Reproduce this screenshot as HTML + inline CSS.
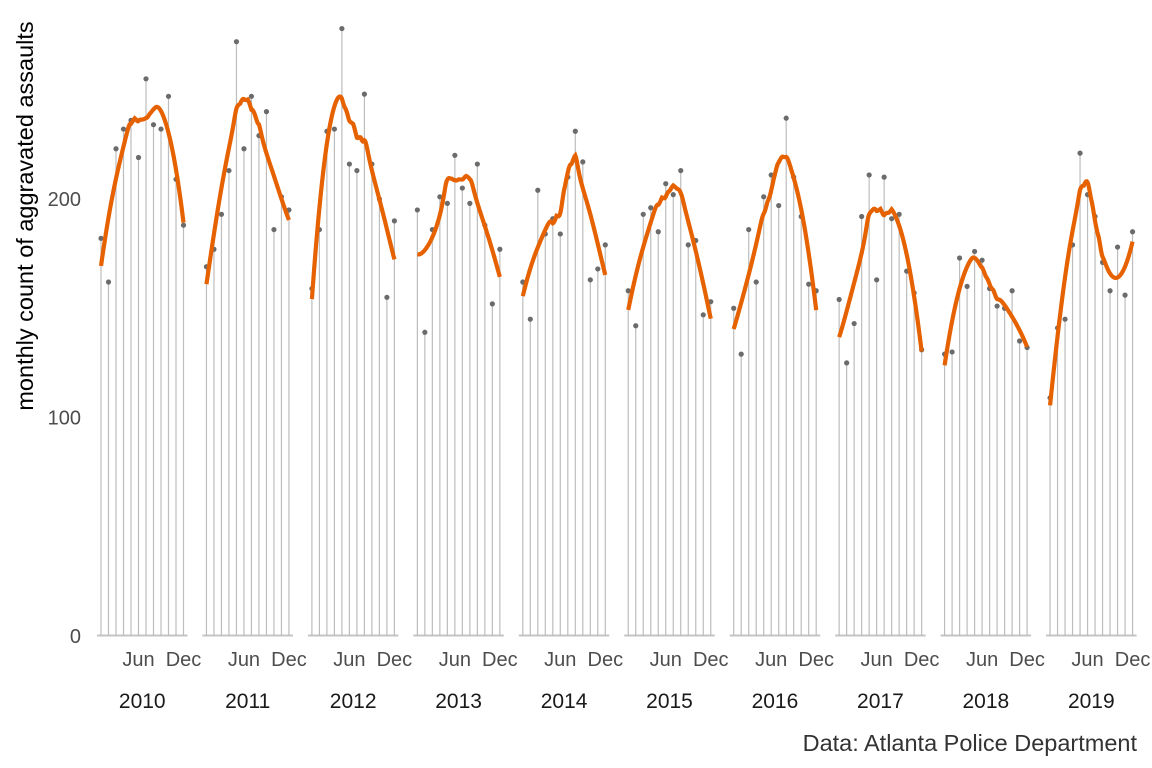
<!DOCTYPE html>
<html><head><meta charset="utf-8"><style>
body{margin:0;background:#fff;}
svg{display:block;font-family:"Liberation Sans",Arial,sans-serif;}
</style></head><body>
<svg id="chart" width="1152" height="768" viewBox="0 0 1152 768" xmlns="http://www.w3.org/2000/svg">
<text transform="translate(33,216) rotate(-90)" text-anchor="middle" font-size="23.5" fill="#000">monthly count of aggravated assaults</text>
<text x="1137" y="751" text-anchor="end" font-size="23.5" fill="#333">Data: Atlanta Police Department</text>
<g id="yaxis"></g>
<g id="panels"></g>
</svg>
<script>
const years = [2010,2011,2012,2013,2014,2015,2016,2017,2018,2019];
const yTicks = [0,100,200];
const monthLabels = ["Jun","Dec"];
const v2010 = [182,162,223,232,236,219,255,234,232,247,209,188];
const v2011 = [169,177,193,213,272,223,247,229,240,186,201,195];
const v2012 = [159,186,231,232,278,216,213,248,216,200,155,190];
const v2013 = [195,139,186,201,198,220,205,198,216,188,152,177];
const v2014 = [162,145,204,184,191,184,210,231,217,163,168,179];
const v2015 = [158,142,193,196,185,207,202,213,179,181,147,153];
const v2016 = [150,129,186,162,201,211,197,237,210,192,161,158];
const v2017 = [154,125,143,192,211,163,210,191,193,167,157,131];
const v2018 = [129,130,173,160,176,172,159,151,150,158,135,132];
const v2019 = [109,141,145,179,221,202,192,171,158,178,156,185];
const series = [v2010,v2011,v2012,v2013,v2014,v2015,v2016,v2017,v2018,v2019];

const NS="http://www.w3.org/2000/svg";
function el(tag,attrs,parent){const e=document.createElementNS(NS,tag);for(const k in attrs)e.setAttribute(k,attrs[k]);parent.appendChild(e);return e;}
const y=v=>636-v*2.185;
const panelX0=i=>101+i*105.45;
const x=(p,m)=>panelX0(p)+m*7.5;

const yax=document.getElementById('yaxis');
yTicks.forEach(t=>{
  const tx=el('text',{x:81,y:y(t)+7,'text-anchor':'end','font-size':20,fill:'#4d4d4d'},yax);
  tx.textContent=t;
  
  
});

function loess(vals,span){
  const n=vals.length,q=Math.max(3,Math.floor(span*n));
  const out=[];
  for(let s=0;s<=110;s++){
    const x0=s/10;
    const d=vals.map((_,i)=>Math.abs(i-x0));
    const sorted=[...d].sort((a,b)=>a-b);
    const h=Math.max(sorted[q-1],1e-6)*1.0001;
    let S=[0,0,0,0,0],T=[0,0,0];
    vals.forEach((v,i)=>{
      const u=d[i]/h; if(u>=1)return;
      const w=Math.pow(1-u*u*u,3);const dx=i-x0;
      S[0]+=w;S[1]+=w*dx;S[2]+=w*dx*dx;S[3]+=w*dx*dx*dx;S[4]+=w*dx*dx*dx*dx;
      T[0]+=w*v;T[1]+=w*v*dx;T[2]+=w*v*dx*dx;
    });
    const A=[[S[0],S[1],S[2]],[S[1],S[2],S[3]],[S[2],S[3],S[4]]];
    const det=m=>m[0][0]*(m[1][1]*m[2][2]-m[1][2]*m[2][1])-m[0][1]*(m[1][0]*m[2][2]-m[1][2]*m[2][0])+m[0][2]*(m[1][0]*m[2][1]-m[1][1]*m[2][0]);
    const D=det(A);
    const A0=[[T[0],S[1],S[2]],[T[1],S[2],S[3]],[T[2],S[3],S[4]]];
    out.push([x0,Math.abs(D)>1e-9?det(A0)/D:T[0]/S[0]]);
  }
  return out;
}

const pg=document.getElementById('panels');
years.forEach((yr,p)=>{
  const g=el('g',{},pg);
  
  
  const ax=el('line',{x1:x(p,0)-4,x2:x(p,11)+4,y1:635.5,y2:635.5,stroke:'#c4c4c4','stroke-width':2},g);
  
  
  [5,11].forEach((m,k)=>{
    const t=el('text',{x:x(p,m),y:666,'text-anchor':'middle','font-size':20,fill:'#4d4d4d'},g);
    t.textContent=monthLabels[k];
    
    
  });
  const yl=el('text',{x:(x(p,0)+x(p,11))/2,y:708,'text-anchor':'middle','font-size':21,fill:'#1a1a1a'},g);
  yl.textContent=yr;
  
  
  const vals=series[p];
  vals.forEach((v,m)=>{
    const s=el('line',{x1:x(p,m),x2:x(p,m),y1:636,y2:y(v),stroke:'#bdbdbd','stroke-width':1.2},g);
    
    
  });
  vals.forEach((v,m)=>{
    const c=el('circle',{cx:x(p,m),cy:y(v),r:2.6,fill:'#6b6b6b'},g);
    
    
  });
  const sm=loess(vals,0.75);
  const d=sm.map((pt,i)=>(i?'L':'M')+(panelX0(p)+pt[0]*7.5).toFixed(2)+','+y(pt[1]).toFixed(2)).join('');
  const path=el('path',{d:d,fill:'none',stroke:'#e66100','stroke-width':4.2},g);
  
  
});
</script>
</body></html>
